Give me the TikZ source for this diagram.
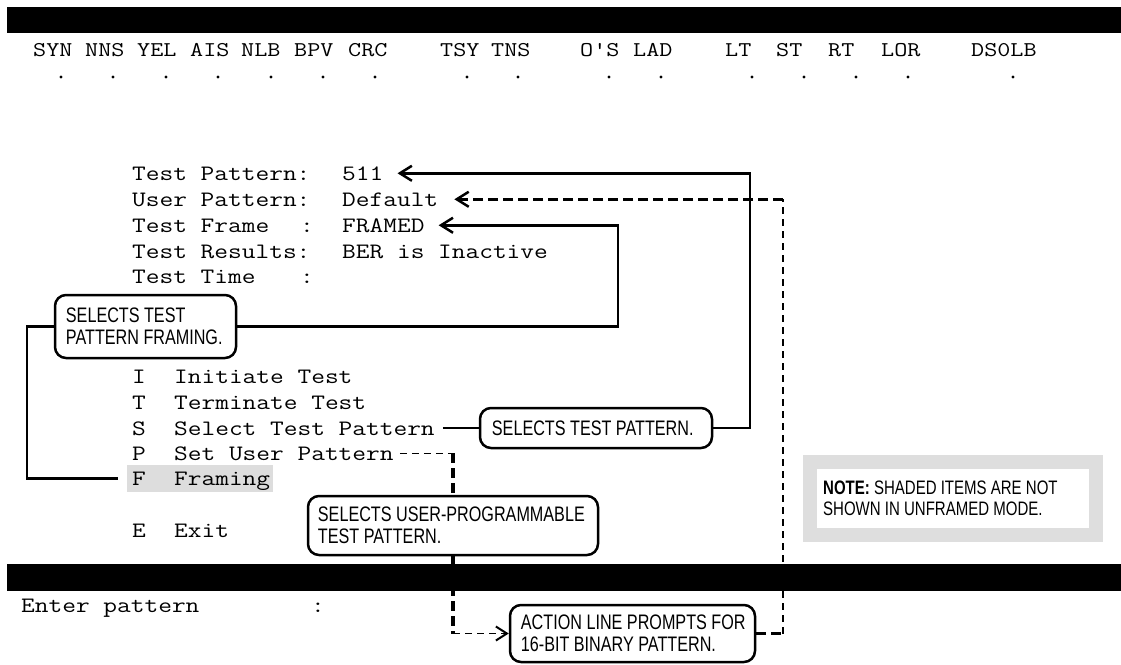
\documentclass[tikz,border=0pt]{standalone}
\usepackage{fontspec}
\newfontfamily\callfont[FakeStretch=0.77]{Liberation Sans}
\usetikzlibrary{arrows.meta}
\definecolor{shadegray}{HTML}{DDDDDD}
\definecolor{notegray}{HTML}{DEDEDE}
% typewriter text widened to a Courier-like pitch
\newcommand\widett[1]{\scalebox{1.21}[1]{#1}}

\begin{document}
\begin{tikzpicture}[x=1pt,y=-1pt,
  stat/.style={font=\ttfamily\fontsize{21}{26}\selectfont, inner sep=0pt, anchor=base west},
  mono/.style={font=\ttfamily\fontsize{22}{28}\selectfont, inner sep=0pt, anchor=base west},
  callbox/.style={draw, line width=2.5pt, rounded corners=11pt, fill=white, inner sep=0pt},
  calltext/.style={font=\callfont\fontsize{21}{22}\selectfont, align=left, inner sep=0pt, anchor=west},
  notetext/.style={font=\callfont\fontsize{19.5}{20.5}\selectfont, align=left, inner sep=0pt, anchor=west},
  leader/.style={line width=2.5pt},
  ptr/.style={-{Straight Barb[length=12pt,width=15pt,line width=2.5pt]}},
  ptrthin/.style={-{Straight Barb[length=11pt,width=14pt,line width=2pt]}},
  thickdash/.style={line width=3.4pt, dash pattern=on 10pt off 5pt},
  thindash/.style={line width=1.4pt, dash pattern=on 7pt off 5pt},
]
\useasboundingbox (0,0) rectangle (1121,664);

% screen bars
\fill (7,7) rectangle (1121,33);
\fill (7,564) rectangle (1121,591);

% status line
\foreach \x/\t in {33/SYN,85/NNS,137/YEL,190/AIS,241/NLB,294/BPV,348/CRC,440/TSY,491/TNS,580/O'S,633/LAD,725/LT,776/ST,828/RT,881/LOR,971/DS0LB}
  \node[stat] (st\x) at (\x,56) {\widett{\t}};
\foreach \x in {61,113,166,218,271,323,375,467,518,609,661,752,804,856,908,1013}
  \fill (\x,77) circle (1.7);

% test status fields
\node[mono] (lpat) at (132,180) {\widett{Test Pattern:}};
\node[mono] (lusr) at (132,206) {\widett{User Pattern:}};
\node[mono] (lfrm) at (132,232) {\widett{Test Frame}};
\node[mono] (cfrm) at (300,232) {\widett{:}};
\node[mono] (lres) at (132,258) {\widett{Test Results:}};
\node[mono] (ltim) at (132,283) {\widett{Test Time}};
\node[mono] (ctim) at (300,283) {\widett{:}};
\node[mono] (v511) at (342,180) {\widett{511}};
\node[mono] (vdef) at (342,206) {\widett{Default}};
\node[mono] (vfrm) at (342,232) {\widett{FRAMED}};
\node[mono] (vres) at (342,258) {\widett{BER is Inactive}};

% menu
\fill[shadegray] (127,465) rectangle (273,492);
\foreach \k/\d/\y/\n in {I/Initiate Test/383/I, T/Terminate Test/409/T, S/Select Test Pattern/435/S, P/Set User Pattern/460/P, F/Framing/485/F, E/Exit/537/E}{
  \node[mono] (k\n) at (132,\y) {\widett{\k}};
  \node[mono] (d\n) at (174,\y) {\widett{\d}};
}

% action line
\node[mono] (enter) at (21,612) {\widett{Enter pattern}};
\node[mono] (ecol) at (311,612) {\widett{:}};

% callouts
\node[callbox, minimum width=181pt, minimum height=63pt] (c1) at (145.5,326.5) {};
\node[calltext] (t1) at ([xshift=12pt]c1.west) {SELECTS TEST\\PATTERN FRAMING.};
\node[callbox, minimum width=232pt, minimum height=40pt] (c2) at (596,428) {};
\node[calltext] (t2) at ([xshift=13pt]c2.west) {SELECTS TEST PATTERN.};
\node[callbox, minimum width=290pt, minimum height=59pt] (c3) at (453,525.5) {};
\node[calltext] (t3) at ([xshift=11pt]c3.west) {SELECTS USER-PROGRAMMABLE\\TEST PATTERN.};
\node[callbox, minimum width=245pt, minimum height=57pt] (c4) at (632.5,633.5) {};
\node[calltext] (t4) at ([xshift=12pt]c4.west) {ACTION LINE PROMPTS FOR\\16-BIT BINARY PATTERN.};

% note
\node[draw=notegray, line width=14pt, minimum width=286pt, minimum height=73pt, inner sep=0pt] (note) at (953,498.5) {};
\node[notetext] (nt) at ([xshift=20pt]note.west) {\textbf{NOTE:} SHADED ITEMS ARE NOT\\SHOWN IN UNFRAMED MODE.};

% connector columns
\coordinate (xl) at (27,0);
\coordinate (xr1) at (750,0);
\coordinate (xr2) at (783,0);
\coordinate (xr3) at (618,0);

% solid leaders
\draw[leader,ptr] (c2.east) -- (c2.east -| xr1) |- ([xshift=14pt]v511.east);
\draw[leader,ptr] (c1.east) -- (c1.east -| xr3) |- ([xshift=14pt]vfrm.east);
\draw[leader] (c1.west) -- (c1.west -| xl) |- ([xshift=-14pt]kF.west);
\coordinate (sS) at (c2.west -| dS.east);
\draw[leader] ([xshift=8pt]sS) -- (c2.west);

% dashed leaders
\coordinate (pP) at (dP.east -| c3.north);
\draw[thindash] ([xshift=6pt]dP.east) -- (pP);
\draw[thickdash] (pP) -- (c3.north);
\coordinate (pA) at (c3.south |- c4.west);
\draw[thickdash] (c3.south) -- (pA);
\draw[thindash,ptrthin] (pA) -- (c4.west);
\coordinate (pB) at (c4.east -| xr2);
\coordinate (pC) at (vdef.east -| xr2);
\draw[thickdash] (c4.east) -- (pB);
\draw[thindash] (pB) -- (pC);
\draw[thickdash,ptr] (pC) -- ([xshift=16pt]vdef.east);
\end{tikzpicture}
\end{document}
